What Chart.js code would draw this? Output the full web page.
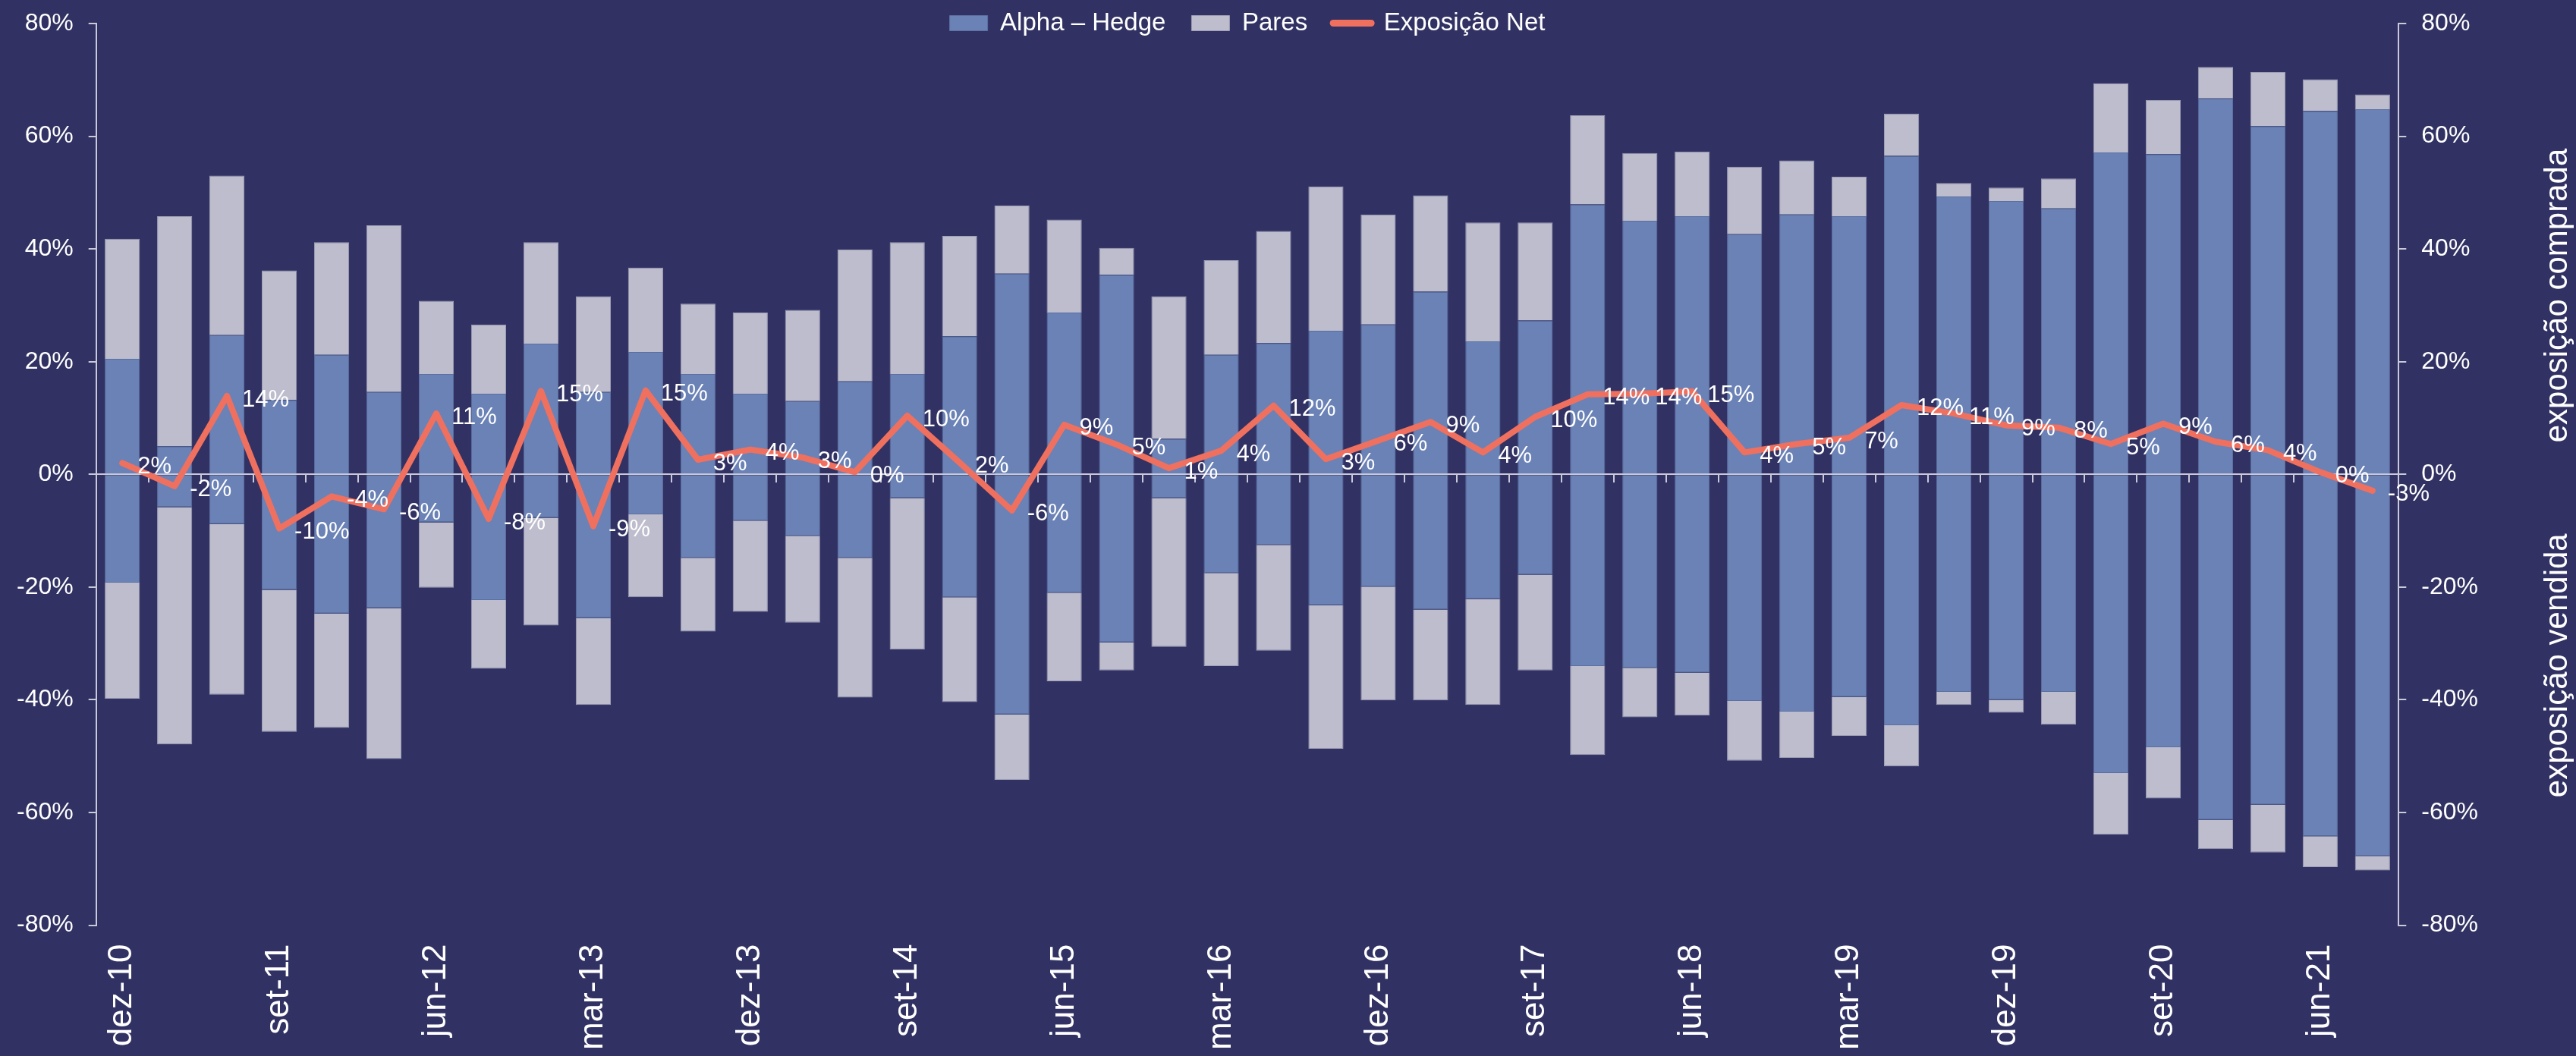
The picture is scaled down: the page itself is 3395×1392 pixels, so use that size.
<!DOCTYPE html>
<html lang="pt">
<head>
    <meta charset="UTF-8">
    <title>Exposição</title>
    <script src="https://cdn.jsdelivr.net/npm/chart.js"></script>
    <style>
        html, body { margin: 0; padding: 0; background: #313263; }
        canvas { display: block; }
    </style>
</head>
<body>
    <canvas id="exposureChart" width="3395" height="1392"></canvas>

    <script>
        // trimestres (rótulo exibido a cada 3)
        const quarters = [
            'dez-10', 'mar-11', 'jun-11', 'set-11', 'dez-11', 'mar-12', 'jun-12', 'set-12', 'dez-12',
            'mar-13', 'jun-13', 'set-13', 'dez-13', 'mar-14', 'jun-14', 'set-14', 'dez-14', 'mar-15',
            'jun-15', 'set-15', 'dez-15', 'mar-16', 'jun-16', 'set-16', 'dez-16', 'mar-17', 'jun-17',
            'set-17', 'dez-17', 'mar-18', 'jun-18', 'set-18', 'dez-18', 'mar-19', 'jun-19', 'set-19',
            'dez-19', 'mar-20', 'jun-20', 'set-20', 'dez-20', 'mar-21', 'jun-21', 'set-21'
        ];

        // exposição comprada (%)
        const alphaLong = [20.5, 5.0, 24.7, 13.2, 21.2, 14.6, 17.8, 14.3, 23.2, 14.6, 21.7, 17.8, 14.3, 13.0, 16.5,
            17.8, 24.5, 35.6, 28.7, 35.4, 6.3, 21.2, 23.3, 25.5, 26.6, 32.4, 23.6, 27.3, 47.9, 45.0,
            45.8, 42.6, 46.1, 45.8, 56.5, 49.3, 48.5, 47.2, 57.1, 56.8, 66.7, 61.8, 64.5, 64.8];
        const paresLong = [21.3, 40.8, 28.3, 23.0, 20.0, 29.6, 13.0, 12.3, 18.0, 17.0, 15.0, 12.5, 14.4, 16.2, 23.4,
            23.4, 17.8, 12.1, 16.5, 4.8, 25.3, 16.8, 19.9, 25.6, 19.5, 17.1, 21.1, 17.4, 15.8, 12.0,
            11.5, 12.0, 9.6, 7.0, 7.5, 2.4, 2.4, 5.3, 12.3, 9.6, 5.6, 9.6, 5.6, 2.6];

        // exposição vendida (%)
        const alphaShort = [-19.2, -5.8, -8.8, -20.5, -24.7, -23.7, -8.5, -22.3, -7.7, -25.5, -7.1, -14.8, -8.2, -10.9, -14.8,
            -4.2, -21.8, -42.6, -21.0, -29.8, -4.2, -17.5, -12.5, -23.2, -19.9, -24.0, -22.1, -17.8, -34.0, -34.3,
            -35.2, -40.2, -42.1, -39.5, -44.5, -38.6, -40.0, -38.6, -53.0, -48.4, -61.3, -58.6, -64.2, -67.7];
        const paresShort = [-20.6, -42.1, -30.3, -25.2, -20.3, -26.8, -11.6, -12.2, -19.1, -15.4, -14.7, -13.1, -16.2, -15.4, -24.8,
            -26.9, -18.6, -11.6, -15.7, -5.0, -26.4, -16.5, -18.8, -25.5, -20.2, -16.1, -18.8, -17.0, -15.8, -8.8,
            -7.6, -10.6, -8.2, -6.9, -7.3, -2.3, -2.3, -5.8, -10.9, -9.1, -5.2, -8.5, -5.5, -2.6];

        // exposição net (%)
        const netExposure = [2.0, -2.1, 13.9, -9.6, -3.9, -6.2, 10.8, -7.9, 14.8, -9.2, 14.9, 2.6, 4.4, 3.0, 0.4,
            10.4, 2.1, -6.4, 8.8, 5.3, 1.1, 4.2, 12.2, 2.7, 6.0, 9.3, 3.9, 10.2, 14.2, 14.3,
            14.7, 3.9, 5.4, 6.5, 12.3, 10.8, 8.7, 8.3, 5.4, 9.0, 5.8, 4.3, 0.4, -2.9];

        const yTicks = [-80, -60, -40, -20, 0, 20, 40, 60, 80];

        const bgColor = '#313263';
        const blue = '#6b82b6';
        const gray = '#bebdce';
        const salmon = '#f0705f';
        const axisColor = '#c9c9da';
        const fontFamily = "'Liberation Sans', Arial, sans-serif";

        Chart.defaults.color = '#ffffff';
        Chart.defaults.font.family = fontFamily;

        const pct = v => v + '%';

        // fundo
        const background = {
            id: 'background',
            beforeDraw(chart) {
                const ctx = chart.ctx;
                ctx.save();
                ctx.fillStyle = bgColor;
                ctx.fillRect(0, 0, chart.width, chart.height);
                ctx.restore();
            }
        };

        // legenda sobreposta ao topo da área do gráfico
        const legendHeight = {
            id: 'legendHeight',
            beforeInit(chart) {
                const fit = chart.legend.fit;
                chart.legend.fit = function () {
                    fit.call(this);
                    this.height = 51;
                };
            },
            afterLayout(chart) {
                // não cortar o texto da legenda
                chart.legend.height = 100;
                chart.legend.bottom = chart.legend.top + 100;
            }
        };

        // rótulos da linha net
        const netLabels = {
            id: 'netLabels',
            afterDatasetsDraw(chart) {
                const meta = chart.getDatasetMeta(4);
                const ctx = chart.ctx;
                ctx.save();
                ctx.font = '31px ' + fontFamily;
                ctx.fillStyle = '#ffffff';
                ctx.textAlign = 'left';
                ctx.textBaseline = 'middle';
                meta.data.forEach((pt, i) => {
                    const v = Math.round(netExposure[i]) || 0;
                    ctx.fillText(pct(v), pt.x + 20, pt.y + 5);
                });
                ctx.restore();
            }
        };

        // títulos do eixo direito
        const sideTitles = {
            id: 'sideTitles',
            afterDraw(chart) {
                const ctx = chart.ctx;
                const y0 = chart.scales.y.getPixelForValue(0);
                ctx.save();
                ctx.translate(chart.width - 24, y0);
                ctx.rotate(-Math.PI / 2);
                ctx.font = '42px ' + fontFamily;
                ctx.fillStyle = '#ffffff';
                ctx.textBaseline = 'middle';
                ctx.textAlign = 'left';
                ctx.fillText('exposição comprada', 42, 0);
                ctx.textAlign = 'right';
                ctx.fillText('exposição vendida', -78, 0);
                ctx.restore();
            }
        };

        const yAxis = (position) => ({
            position: position,
            min: -80,
            max: 80,
            stacked: true,
            afterBuildTicks(scale) {
                scale.ticks = yTicks.map(v => ({ value: v }));
            },
            afterFit(scale) {
                scale.paddingTop = 20;
                scale.paddingBottom = 20;
            },
            ticks: {
                color: '#ffffff',
                font: { size: 32 },
                padding: 20,
                callback: pct
            },
            grid: { drawOnChartArea: false, color: axisColor, tickLength: 10, lineWidth: 2 },
            border: { color: axisColor, width: 2 }
        });

        const ctx = document.getElementById('exposureChart').getContext('2d');
        const chart = new Chart(ctx, {
            type: 'bar',
            data: {
                labels: quarters,
                datasets: [
                    {
                        label: 'Alpha – Hedge', data: alphaLong, stack: 'exp', order: 1,
                        backgroundColor: blue, borderColor: '#5b6fa0', borderWidth: 1, pointStyle: 'rect'
                    },
                    {
                        label: 'Pares', data: paresLong, stack: 'exp', order: 1,
                        backgroundColor: gray, borderColor: '#9d9db4', borderWidth: 1, pointStyle: 'rect'
                    },
                    {
                        label: 'Alpha – Hedge', data: alphaShort, stack: 'exp', order: 1,
                        backgroundColor: blue, borderColor: '#5b6fa0', borderWidth: 1, pointStyle: 'rect'
                    },
                    {
                        label: 'Pares', data: paresShort, stack: 'exp', order: 1,
                        backgroundColor: gray, borderColor: '#9d9db4', borderWidth: 1, pointStyle: 'rect'
                    },
                    {
                        type: 'line', label: 'Exposição Net', data: netExposure, order: 0,
                        borderColor: salmon, backgroundColor: salmon, borderWidth: 8,
                        borderCapStyle: 'round', borderJoinStyle: 'round',
                        pointRadius: 0, pointHoverRadius: 0, pointStyle: 'line', tension: 0
                    }
                ]
            },
            options: {
                responsive: false,
                animation: false,
                categoryPercentage: 1,
                barPercentage: 0.67,
                layout: { padding: { top: -20, left: 2, right: 109, bottom: -9 } },
                plugins: {
                    tooltip: { enabled: false },
                    legend: {
                        position: 'top',
                        labels: {
                            color: '#ffffff',
                            font: { size: 33 },
                            usePointStyle: true,
                            pointStyleWidth: 50,
                            boxHeight: 20,
                            padding: 34,
                            generateLabels(chart) {
                                const items = Chart.defaults.plugins.legend.labels.generateLabels(chart);
                                return items
                                    .filter(it => [0, 1, 4].includes(it.datasetIndex))
                                    .sort((a, b) => a.datasetIndex - b.datasetIndex)
                                    .map(it => it.datasetIndex === 4 ? Object.assign(it, { lineWidth: 9, lineCap: 'round' }) : it);
                            }
                        }
                    }
                },
                scales: {
                    x: {
                        stacked: true,
                        offset: true,
                        grid: { display: false, offset: true },
                        border: { display: false },
                        ticks: {
                            autoSkip: false,
                            minRotation: 90,
                            maxRotation: 90,
                            color: '#ffffff',
                            font: { size: 44 },
                            padding: 17,
                            callback(value, index) {
                                return index % 3 === 0 ? this.getLabelForValue(value) : '';
                            }
                        }
                    },
                    x2: {
                        type: 'category',
                        position: { y: 0 },
                        offset: true,
                        grid: { offset: true, drawOnChartArea: false, tickLength: 10, color: axisColor, lineWidth: 2 },
                        border: { color: axisColor, width: 2 },
                        ticks: { display: false }
                    },
                    y: yAxis('left'),
                    y2: yAxis('right')
                }
            },
            plugins: [background, legendHeight, netLabels, sideTitles]
        });
    </script>
</body>
</html>
